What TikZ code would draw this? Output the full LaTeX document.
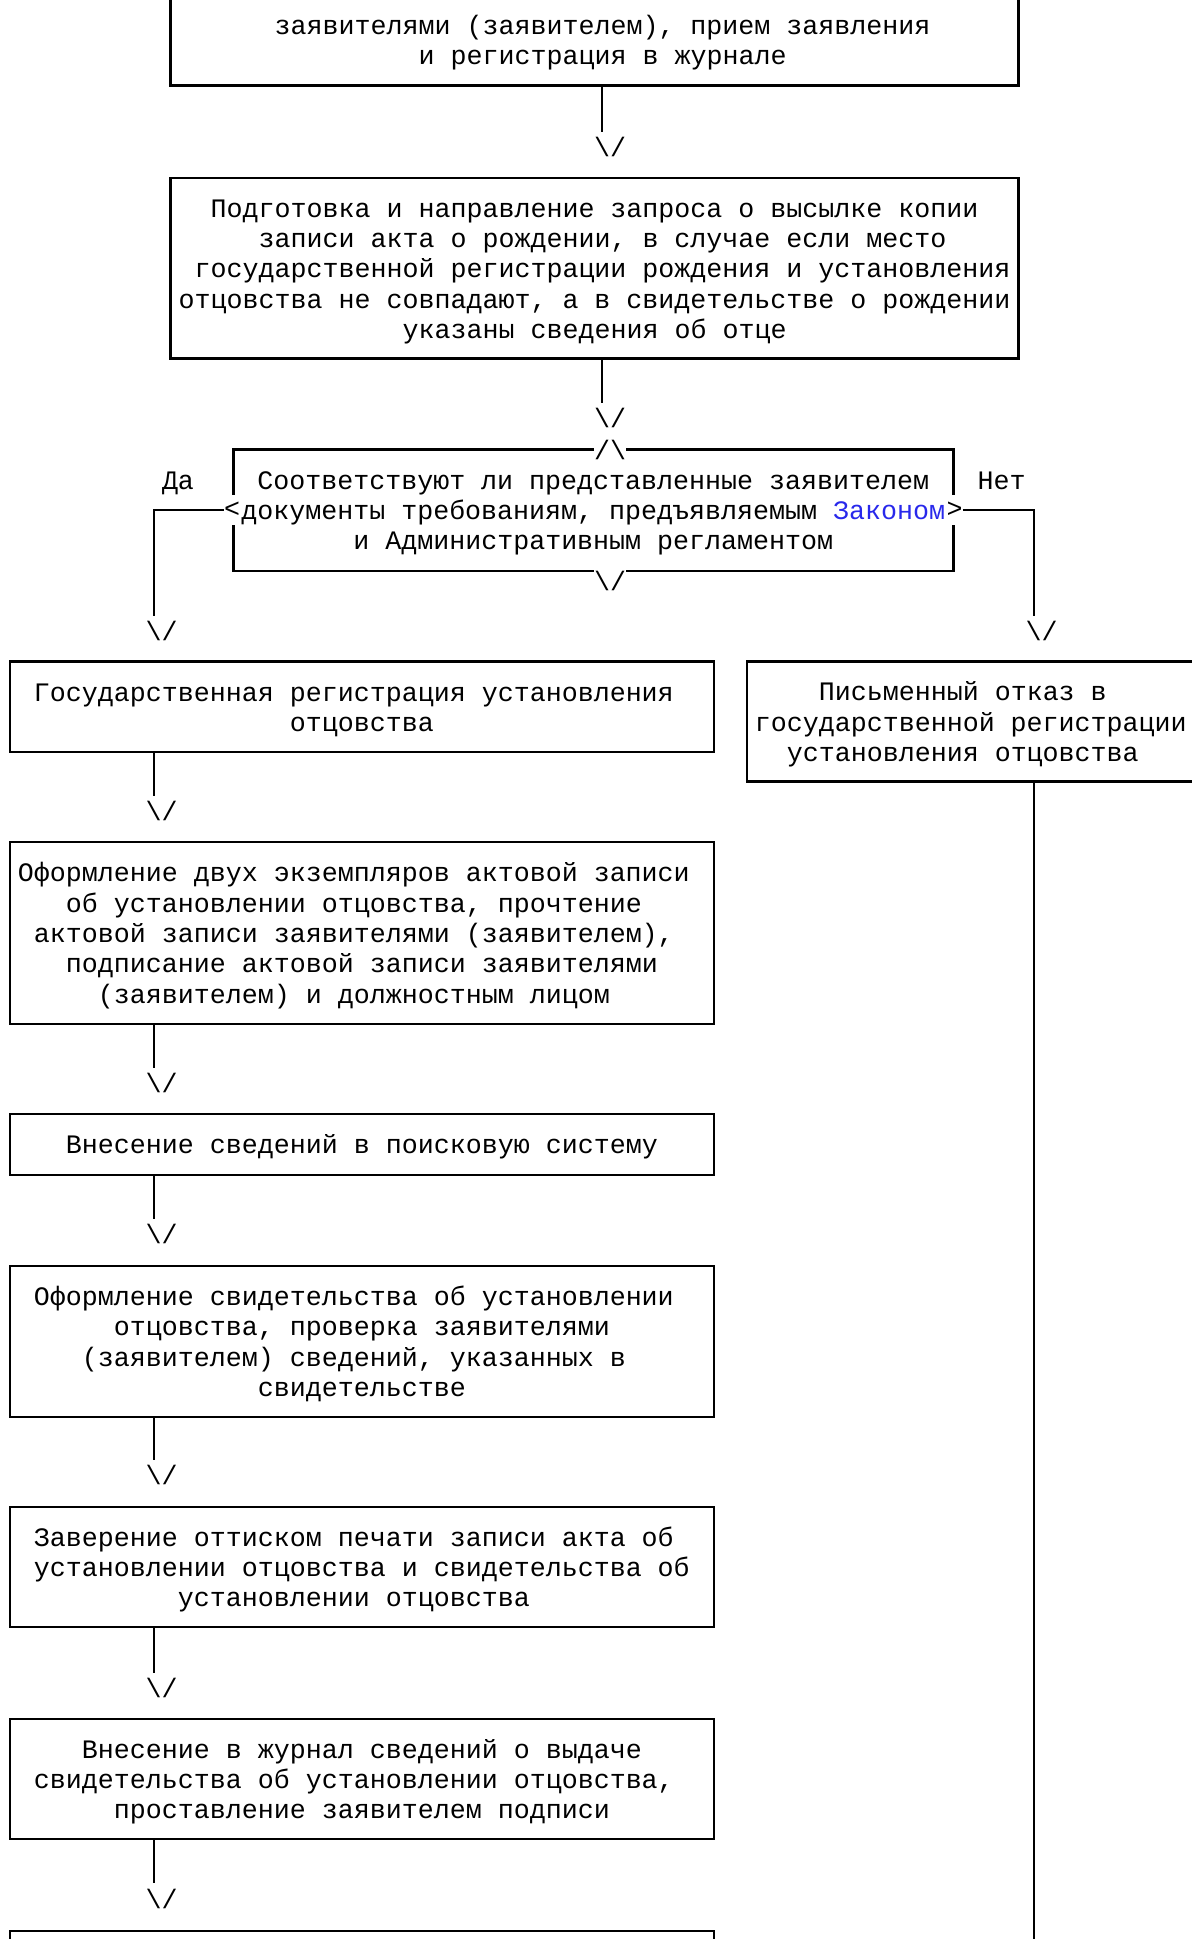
\documentclass[tikz,border=0pt]{standalone}
\usepackage{fontspec}
\newfontfamily\flowfamily{Liberation Mono}

\definecolor{lawblue}{RGB}{40,40,235}
\newlength{\chw}
\setlength{\chw}{8pt}
\newcommand{\flowfont}{\flowfamily\fontsize{13.33}{15.2}\selectfont}
\newcommand{\rowtop}{\rule{0pt}{13pt}}
\newcommand{\rowbot}{\rule[-3.5pt]{0pt}{3.5pt}}
\newcommand{\indentcol}[1]{\hspace*{\dimexpr#1\chw-0.5\chw\relax}}

\begin{document}
\begin{tikzpicture}[x=0.5pt, y=-0.5pt,
  stage/.style={draw, line width=1.2pt, inner sep=0pt, text width=#1, align=flush left, font=\flowfont,
    execute at begin node=\rowtop, execute at end node=\rowbot},
  tip/.style={inner sep=0pt, font=\flowfont},
  word/.style={inner sep=0pt, font=\flowfont,
    execute at begin node=\rowtop, execute at end node=\rowbot},
  cut/.style={fill=white, inner sep=0pt, font=\flowfont},
  link/.style={line width=1pt, shorten >=2.5pt}]

  \useasboundingbox (0,0) rectangle (1192,1939);

  % upper part
  \node[stage=424pt, minimum height=45.3pt] (req) at (594.6,40)
    {\indentcol{7}заявителями (заявителем), прием заявления\\
     \indentcol{16}и регистрация в журнале};
  \node[tip] (a1) at (610,147) {\textbackslash/};

  \node[stage=424pt, minimum height=90.3pt] (query) at (594.6,268.3)
    {\indentcol{3}Подготовка и направление запроса о высылке копии\\
     \indentcol{6}записи акта о рождении, в случае если место\\
     \indentcol{2}государственной регистрации рождения и установления\\
     \indentcol{1}отцовства не совпадают, а в свидетельстве о рождении\\
     \indentcol{15}указаны сведения об отце};
  \node[tip] (a2) at (610,418) {\textbackslash/};

  % decision
  \node[stage=360pt, minimum height=60.7pt] (check) at (593.3,510)
    {\indentcol{2}Соответствуют ли представленные заявителем\\
     \indentcol{1}документы требованиям, предъявляемым \textcolor{lawblue}{Законом}\\
     \indentcol{8}и Административным регламентом};
  \node[cut, minimum height=12pt] (up) at ([yshift=-1pt]check.north -| a2) {/\textbackslash};
  \node[cut, minimum height=12pt] (dn) at ([yshift=-4.5pt]check.south -| a2) {\textbackslash/};
  \node[cut, minimum height=15pt] (lt) at (check.west) {<};
  \node[cut, minimum height=15pt] (gt) at (check.east) {>};

  \node[word] (yes) at (178,480) {Да};
  \node[word] (no) at (1001.6,480) {Нет};
  \node[tip] (ay) at (161.7,631) {\textbackslash/};
  \node[tip] (an) at (1041.7,631) {\textbackslash/};

  % left column
  \node[stage=352pt, minimum height=45.15pt] (reg) at (361.9,706.7)
    {\indentcol{2}Государственная регистрация установления\\
     \indentcol{18}отцовства};
  \node[tip] (a3) at (161.7,811) {\textbackslash/};

  \node[stage=352pt, minimum height=91pt] (act) at (361.9,933)
    {\indentcol{1}Оформление двух экземпляров актовой записи\\
     \indentcol{4}об установлении отцовства, прочтение\\
     \indentcol{2}актовой записи заявителями (заявителем),\\
     \indentcol{4}подписание актовой записи заявителями\\
     \indentcol{6}(заявителем) и должностным лицом};
  \node[tip] (a4) at (161.7,1083) {\textbackslash/};

  \node[stage=352pt, minimum height=30.35pt] (search) at (361.9,1144.4)
    {\indentcol{4}Внесение сведений в поисковую систему};
  \node[tip] (a5) at (161.7,1234) {\textbackslash/};

  \node[stage=352pt, minimum height=75.5pt] (cert) at (361.9,1341.5)
    {\indentcol{2}Оформление свидетельства об установлении\\
     \indentcol{7}отцовства, проверка заявителями\\
     \indentcol{5}(заявителем) сведений, указанных в\\
     \indentcol{16}свидетельстве};
  \node[tip] (a6) at (161.7,1475) {\textbackslash/};

  \node[stage=352pt, minimum height=60pt] (seal) at (361.9,1567)
    {\indentcol{2}Заверение оттиском печати записи акта об\\
     \indentcol{2}установлении отцовства и свидетельства об\\
     \indentcol{11}установлении отцовства};
  \node[tip] (a7) at (161.7,1688) {\textbackslash/};

  \node[stage=352pt, minimum height=59.85pt] (book) at (361.9,1778.9)
    {\indentcol{5}Внесение в журнал сведений о выдаче\\
     \indentcol{2}свидетельства об установлении отцовства,\\
     \indentcol{7}проставление заявителем подписи};
  \node[tip] (a8) at (161.7,1898.5) {\textbackslash/};

  \node[stage=352pt, minimum height=60pt] (issue) at (361.9,1991) {};

  % right column
  \node[stage=224pt, minimum height=60pt] (refuse) at (970.8,721.5)
    {\indentcol{5}Письменный отказ в\\
     \indentcol{1}государственной регистрации\\
     \indentcol{3}установления отцовства};
  \coordinate (tail) at (1034,1960);

  % connectors
  \draw[link] ([xshift=-4pt]a1.north |- req.south) -- ([xshift=-4pt]a1.north);
  \draw[link] ([xshift=-4pt]a2.north |- query.south) -- ([xshift=-4pt]a2.north);
  \draw[link] (lt.west) -| ([xshift=-4pt]ay.north);
  \draw[link] (gt.east) -| ([xshift=-4pt]an.north);
  \draw[link] ([xshift=-4pt]a3.north |- reg.south) -- ([xshift=-4pt]a3.north);
  \draw[link] ([xshift=-4pt]a4.north |- act.south) -- ([xshift=-4pt]a4.north);
  \draw[link] ([xshift=-4pt]a5.north |- search.south) -- ([xshift=-4pt]a5.north);
  \draw[link] ([xshift=-4pt]a6.north |- cert.south) -- ([xshift=-4pt]a6.north);
  \draw[link] ([xshift=-4pt]a7.north |- seal.south) -- ([xshift=-4pt]a7.north);
  \draw[link] ([xshift=-4pt]a8.north |- book.south) -- ([xshift=-4pt]a8.north);
  \draw[link, shorten >=0pt] (refuse.south -| tail) -- (tail);

\end{tikzpicture}
\end{document}
